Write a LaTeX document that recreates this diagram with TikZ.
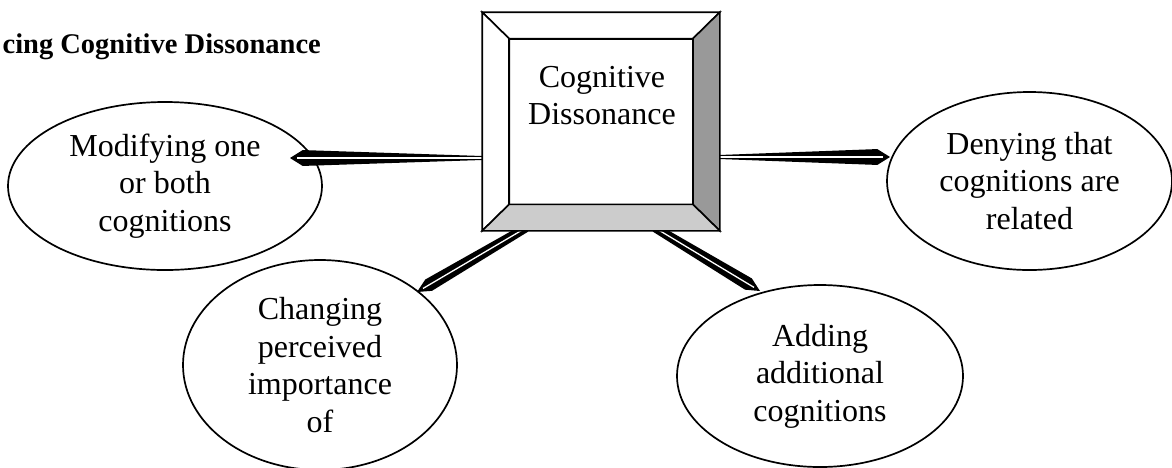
\documentclass[tikz,border=0pt]{standalone}
\usepackage{fontspec}
\setmainfont{Liberation Serif}
\usetikzlibrary{shapes.geometric,calc}
\definecolor{bevdark}{gray}{0.6}
\definecolor{bevlight}{gray}{0.8}

% tapered spear: foot, tip, half width at the foot, angle of the head
\newcommand{\spearlink}[4]{%
  \fill (#1) -- ($(#1)!#3!90:(#2)$) -- ($(#2)!15pt!-#4:(#1)$) -- (#2)
    -- ($(#2)!15pt!#4:(#1)$) -- ($(#1)!#3!-90:(#2)$) -- cycle;
  \draw[white, line width=1.3pt] (#1) -- ($(#2)!7pt!(#1)$);
}

\begin{document}
\begin{tikzpicture}[x=1pt, y=-1pt, line width=1.6pt, line join=miter,
    bubble/.style={ellipse, draw, line width=1.7pt, inner sep=0pt, align=center,
      font=\fontsize{32}{37.5}\selectfont}]
    \useasboundingbox (0,0) rectangle (1172,467);

    \node[anchor=base east, font=\bfseries\fontsize{28.5}{32}\selectfont] (title) at (325,53) {cing Cognitive Dissonance};

    \node[bubble, minimum width=314pt, minimum height=168pt] (modify) at (165,186) {Modifying one\\or both\\cognitions};
    \node[bubble, minimum width=285pt, minimum height=178pt] (deny) at (1029.5,181) {Denying that\\cognitions are\\related};
    \node[bubble, minimum width=274pt, minimum height=210pt] (change) at (320,365) {Changing\\perceived\\importance\\of};
    \node[bubble, minimum width=286pt, minimum height=182pt] (add) at (820,376) {Adding\\additional\\cognitions};

    \node[minimum width=236pt, minimum height=217pt, inner sep=0pt] (cd) at (601,121.5) {};
    \node[minimum width=182pt, minimum height=164pt, inner sep=0pt] (cdin) at (cd.center) {};

    \coordinate (modtip) at (290,158);
    \coordinate (denytip) at (890,157);
    \coordinate (changetip) at (417,292);
    \coordinate (addtip) at (760,291);
    \coordinate (modfoot) at ($(cd.west |- modtip)+(6,0)$);
    \coordinate (denyfoot) at ($(cd.east |- denytip)+(-6,0)$);
    \coordinate (changefoot) at ($(cd.south)+(-75,-3)$);
    \coordinate (addfoot) at ($(cd.south)+(54,-3)$);

    \spearlink{modfoot}{modtip}{1.8pt}{32}
    \spearlink{denyfoot}{denytip}{1.8pt}{32}
    \spearlink{changefoot}{changetip}{4.4pt}{26}
    \spearlink{addfoot}{addtip}{4.4pt}{26}

    % bevelled frame
    \filldraw[fill=white] (cd.north west) -- (cd.north east) -- (cdin.north east) -- (cdin.north west) -- cycle;
    \filldraw[fill=white] (cd.north west) -- (cdin.north west) -- (cdin.south west) -- (cd.south west) -- cycle;
    \filldraw[fill=bevdark] (cd.north east) -- (cd.south east) -- (cdin.south east) -- (cdin.north east) -- cycle;
    \filldraw[fill=bevlight] (cd.south west) -- (cd.south east) -- (cdin.south east) -- (cdin.south west) -- cycle;
    \draw (cdin.north west) rectangle (cdin.south east);

    \node[align=center, font=\fontsize{32}{37}\selectfont] (cdtext) at (602,96) {Cognitive\\Dissonance};
\end{tikzpicture}
\end{document}
